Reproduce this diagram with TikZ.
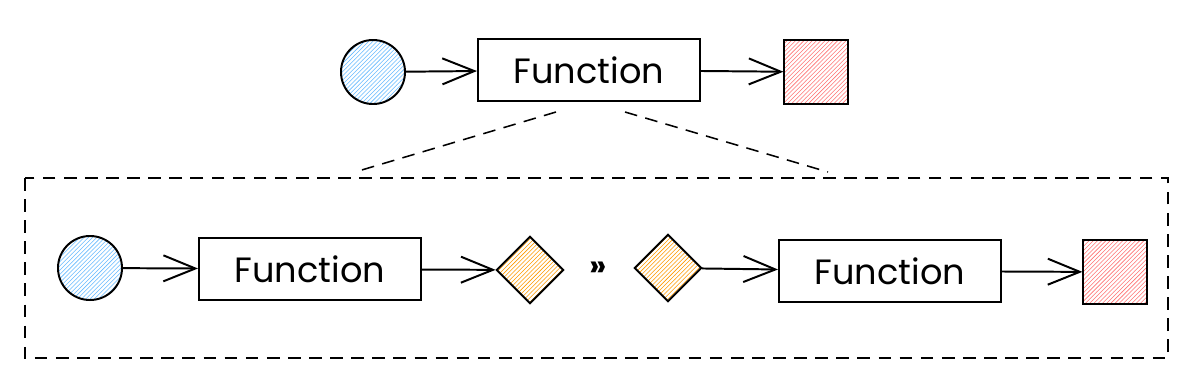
\documentclass[tikz,border=0pt]{standalone}
\usepackage{fontspec}
\setmainfont{Poppins}
\usetikzlibrary{arrows.meta,patterns,shapes.geometric}

\begin{document}
\begin{tikzpicture}[
    x=0.025cm, y=-0.025cm,
    fnbox/.style={draw, line width=1.4pt, minimum width=5.55cm, minimum height=1.55cm, inner sep=0pt, font=\fontsize{25}{28}\selectfont},
    inval/.style={circle, draw, line width=1.4pt, minimum size=1.6cm, pattern=north east lines, pattern color=blue!45!cyan!60},
    outval/.style={rectangle, draw, line width=1.4pt, minimum size=1.58cm, pattern=north east lines, pattern color=red!55},
    midval/.style={diamond, draw, line width=1.4pt, minimum size=1.68cm, inner sep=0pt, pattern=north east lines, pattern color=orange!80!yellow},
    flow/.style={-{Straight Barb[length=8mm, width=6.5mm, line width=1.4pt]}, line width=1.4pt},
    zoomline/.style={dashed, dash pattern=on 9pt off 6pt, line width=1.1pt}
]
    \useasboundingbox (0,0) rectangle (1200,389);

    % top row
    \node[inval] (a) at (373,72) {};
    \node[fnbox] (f) at (589,70) {Function};
    \node[outval] (b) at (816,72) {};

    \draw[flow] (a) -- (f);
    \draw[flow] (f) -- (b);

    % zoom
    \coordinate (zl) at (355,172);
    \coordinate (zr) at (828,172);
    \draw[zoomline] (556,112) coordinate (fl) -- (zl);
    \draw[zoomline] (625,112) coordinate (fr) -- (zr);
    \draw[zoomline] (25,178) rectangle (1168,358);

    % bottom row
    \node[inval] (a2) at (90,268) {};
    \node[fnbox] (f1) at (310,269) {Function};
    \node[midval] (m1) at (530,270) {};
    \node (comp) at (598,269) {\fontsize{22}{24}\selectfont\bfseries »};
    \node[midval] (m2) at (668,268) {};
    \node[fnbox] (f2) at (890,271) {Function};
    \node[outval] (b2) at (1115,272) {};

    \draw[flow] (a2) -- (f1);
    \draw[flow] (f1) -- (m1);
    \draw[flow] (m2) -- (f2);
    \draw[flow] (f2) -- (b2);
\end{tikzpicture}
\end{document}
